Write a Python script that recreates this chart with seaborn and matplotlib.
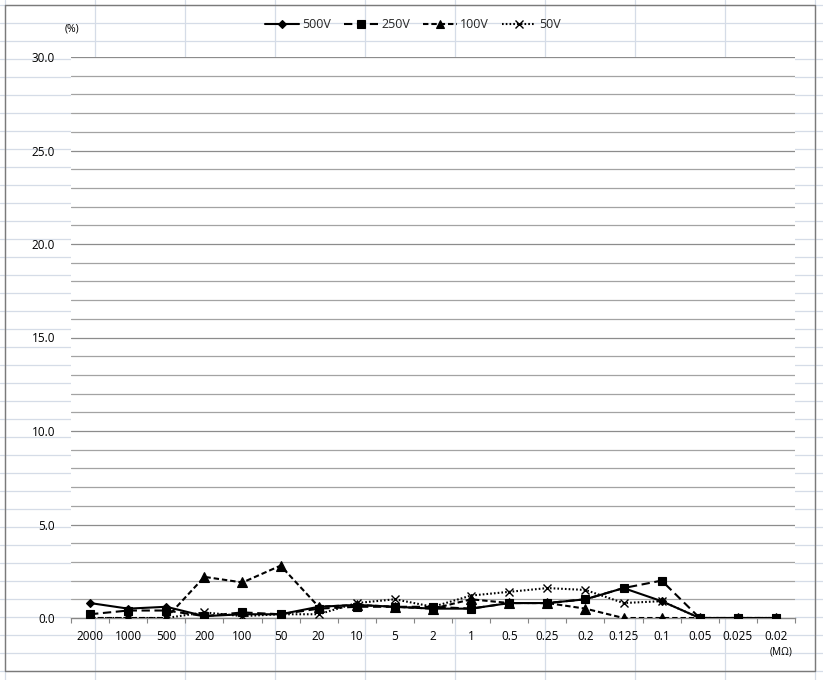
import matplotlib
matplotlib.use("Agg")
import matplotlib.pyplot as plt
from matplotlib.lines import Line2D
from matplotlib.ticker import FixedLocator, MultipleLocator
import seaborn as sns

# Insulation resistance steps (MΩ) and failure rate (%) per test voltage
resistance = ["2000", "1000", "500", "200", "100", "50", "20", "10", "5", "2",
              "1", "0.5", "0.25", "0.2", "0.125", "0.1", "0.05", "0.025", "0.02"]
rate_500v = [0.8, 0.5, 0.6, 0.1, 0.2, 0.2, 0.6, 0.7, 0.6, 0.5,
             0.5, 0.8, 0.8, 1.0, 1.6, 0.9, 0.0, 0.0, 0.0]
rate_250v = [0.2, 0.4, 0.4, 0.1, 0.3, 0.2, 0.5, 0.6, 0.6, 0.6,
             0.5, 0.8, 0.8, 1.0, 1.6, 2.0, 0.0, 0.0, 0.0]
rate_100v = [0.0, 0.0, 0.0, 2.2, 1.9, 2.8, 0.6, 0.7, 0.6, 0.5,
             1.0, 0.8, 0.8, 0.5, 0.0, 0.0, 0.0, 0.0, 0.0]
rate_50v = [0.0, 0.0, 0.0, 0.3, 0.1, 0.2, 0.2, 0.8, 1.0, 0.6,
            1.2, 1.4, 1.6, 1.5, 0.8, 0.9, 0.0, 0.0, 0.0]
series_labels = ["500V", "250V", "100V", "50V"]
y_ticks = [0, 5, 10, 15, 20, 25, 30]

sns.set_theme(style="white")
plt.rcParams["font.family"] = ["Open Sans", "DejaVu Sans"]

W, H = 823, 680
fig = plt.figure(figsize=(W / 100, H / 100), dpi=100)
fig.patch.set_facecolor("white")


def fx(x):
    return x / W


def fy(y):
    return 1 - y / H


# worksheet cell grid behind the chart
cell_col = "#d5dce7"
for k in range(0, 39):
    y = 5 + 18 * k
    fig.add_artist(Line2D([0, 1], [fy(y), fy(y)], color=cell_col, lw=0.9,
                          transform=fig.transFigure, zorder=-2))
for k in range(0, 10):
    x = 5 + 90 * k
    fig.add_artist(Line2D([fx(x), fx(x)], [0, 1], color=cell_col, lw=0.9,
                          transform=fig.transFigure, zorder=-2))
# chart frame
frame = "#7a7a7a"
fig.add_artist(Line2D([fx(5), fx(815), fx(815), fx(5), fx(5)],
                      [fy(5), fy(5), fy(671), fy(671), fy(5)],
                      color=frame, lw=1.0, transform=fig.transFigure, zorder=-1))

ax = fig.add_axes([fx(71), fy(618), fx(795) - fx(71), fy(57) - fy(618)])
ax.set_facecolor("white")

styles = [
    dict(y=rate_500v, ls="-", marker="D", ms=4.5, mew=0.8),
    dict(y=rate_250v, ls=(0, (4, 2.2)), marker="s", ms=6.0, mew=0.8),
    dict(y=rate_100v, ls=(0, (2.6, 1.4)), marker="^", ms=7.0, mew=0.8),
    dict(y=rate_50v, ls=(0, (0.8, 1.0)), marker="x", ms=6.0, mew=1.0),
]
for lab, st in zip(series_labels, styles):
    sns.lineplot(x=resistance, y=st["y"], ax=ax, sort=False, estimator=None,
                 color="black", linestyle=st["ls"], linewidth=1.5,
                 marker=st["marker"], markersize=st["ms"],
                 markeredgecolor="black", markerfacecolor="black",
                 markeredgewidth=st["mew"], label=lab, legend=False, zorder=3)

ax.set_xlim(-0.5, len(resistance) - 0.5)
ax.set_ylim(0, 30)
ax.set_yticks(y_ticks)
ax.set_yticklabels([f"{v:.1f}" for v in y_ticks])
ax.yaxis.set_minor_locator(MultipleLocator(1))
ax.grid(axis="y", which="major", color="#8c8c8c", lw=0.9)
ax.grid(axis="y", which="minor", color="#a3a3a3", lw=0.9)
ax.set_axisbelow(True)

ax.xaxis.set_minor_locator(FixedLocator([i - 0.5 for i in range(len(resistance) + 1)]))
ax.tick_params(axis="x", which="major", length=0, pad=8.5, labelsize=8.5, labelcolor="black")
ax.tick_params(axis="x", which="minor", length=3.8, width=0.8, color="#868686",
               direction="out", bottom=True)
ax.tick_params(axis="y", which="both", length=0, pad=11.5, labelsize=8.5, labelcolor="black")
ax.set_xlabel("")
ax.set_ylabel("")

for side in ["left", "right", "top"]:
    ax.spines[side].set_visible(False)
ax.spines["bottom"].set_color("#868686")
ax.spines["bottom"].set_linewidth(1.0)
ax.spines["bottom"].set_zorder(2.5)

fig.text(fx(72), fy(29), "(%)", ha="center", va="center", fontsize=7.5, color="black")
fig.text(fx(781), fy(652), "(MΩ)", ha="center", va="center", fontsize=7.2, color="black")

handles, labels = ax.get_legend_handles_labels()
ax.legend(handles, labels, loc="center", bbox_to_anchor=(fx(413), fy(25)),
          bbox_transform=fig.transFigure, ncol=4, frameon=False, fontsize=9,
          handlelength=2.7, handletextpad=0.3, columnspacing=1.0, numpoints=1,
          markerscale=0.85)

fig.savefig("out.png", dpi=100, facecolor="white")
